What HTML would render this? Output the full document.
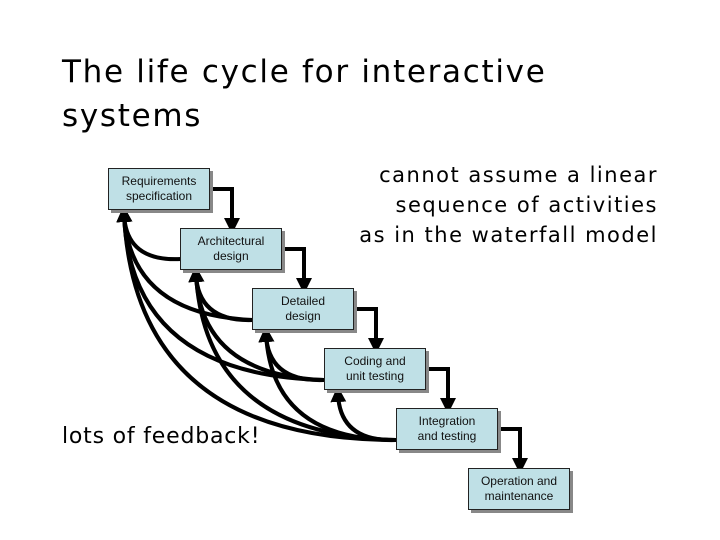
<!DOCTYPE html>
<html><head><style>
body{margin:0;background:#fff;}
.t{position:absolute;font-family:"DejaVu Sans",sans-serif;color:#000;}
.b{position:absolute;width:100px;height:40px;background:#bfe0e6;border:1px solid #222;box-shadow:3px 3px 0 #888;font-family:"Liberation Sans",sans-serif;font-size:12px;text-align:center;display:flex;align-items:center;justify-content:center;line-height:15px;color:#111;}
</style></head><body>
<div style="position:relative;width:720px;height:540px;overflow:hidden">
<div class="t" style="left:62px;top:50px;font-size:31px;line-height:44px;letter-spacing:1.7px;">The life cycle for interactive<br>systems</div>
<div class="t" style="right:62px;top:160px;font-size:21px;line-height:30px;text-align:right;letter-spacing:1.5px;">cannot assume a linear<br>sequence of activities<br>as in the waterfall model</div>
<div class="t" style="left:62px;top:424px;font-size:22px;letter-spacing:0.8px;">lots of feedback!</div>
<svg width="720" height="540" style="position:absolute;left:0;top:0">
<defs><marker id="a" markerWidth="4" markerHeight="4" refX="2" refY="2" orient="auto"><path d="M0,0L4,2L0,4z" fill="#000"/></marker></defs>
<g fill="none" stroke="#000" stroke-width="4">
<path d="M210,189H232V226" marker-end="url(#a)"/>
<path d="M282,249H304V286" marker-end="url(#a)"/>
<path d="M354,309H376V346" marker-end="url(#a)"/>
<path d="M425,369H448V406" marker-end="url(#a)"/>
<path d="M497,429H520V466" marker-end="url(#a)"/>
<g marker-end="url(#a)">
<path d="M181,259Q126,262 124,214"/>
<path d="M253,320Q130,315 124,214"/>
<path d="M253,320Q198,322 196,274"/>
<path d="M324,380Q130,375 124,214"/>
<path d="M324,380Q200,375 196,274"/>
<path d="M324,380Q268,382 266,334"/>
<path d="M396,440Q135,440 124,214"/>
<path d="M396,440Q205,435 196,274"/>
<path d="M396,440Q272,440 266,334"/>
<path d="M396,440Q340,442 338,394"/>
</g></g></svg>
<div class="b" style="left:108px;top:168px">Requirements<br>specification</div>
<div class="b" style="left:180px;top:228px">Architectural<br>design</div>
<div class="b" style="left:252px;top:288px">Detailed<br>design</div>
<div class="b" style="left:324px;top:348px">Coding and<br>unit testing</div>
<div class="b" style="left:396px;top:408px">Integration<br>and testing</div>
<div class="b" style="left:468px;top:468px">Operation and<br>maintenance</div>
</div></body></html>
